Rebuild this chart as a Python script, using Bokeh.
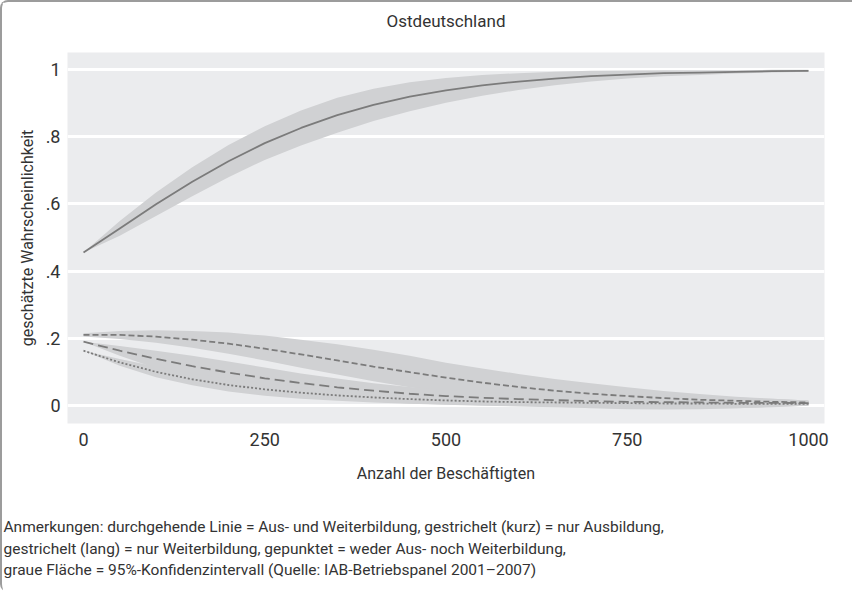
from bokeh.plotting import figure
from bokeh.models import Range1d, FixedTicker, Title
from bokeh.embed import file_html
from bokeh.resources import INLINE

# ---------------- data ----------------
x_vals = [0, 50, 100, 150, 200, 250, 300, 350, 400, 450, 500,
          550, 600, 650, 700, 750, 800, 850, 900, 950, 1000]

# Aus- und Weiterbildung (durchgehende Linie)
both = [0.455, 0.527, 0.599, 0.666, 0.727, 0.781, 0.826, 0.864, 0.895, 0.919, 0.938,
        0.953, 0.964, 0.973, 0.980, 0.985, 0.989, 0.991, 0.993, 0.995, 0.996]
both_lo = [0.455, 0.505, 0.564, 0.623, 0.679, 0.731, 0.774, 0.812, 0.847, 0.876, 0.901,
           0.922, 0.939, 0.953, 0.964, 0.973, 0.980, 0.984, 0.988, 0.991, 0.993]
both_hi = [0.455, 0.549, 0.634, 0.709, 0.775, 0.831, 0.878, 0.916, 0.943, 0.962, 0.975,
           0.984, 0.989, 0.993, 0.996, 0.997, 0.998, 0.998, 0.998, 0.999, 0.999]

# nur Ausbildung (gestrichelt kurz)
ausb = [0.210, 0.210, 0.205, 0.196, 0.184, 0.169, 0.152, 0.134, 0.116, 0.099, 0.083,
        0.068, 0.055, 0.044, 0.035, 0.028, 0.022, 0.017, 0.014, 0.011, 0.009]
ausb_lo = [0.205, 0.198, 0.187, 0.172, 0.154, 0.134, 0.112, 0.092, 0.072, 0.054, 0.040,
           0.027, 0.017, 0.009, 0.004, 0.002, 0.001, 0.000, 0.002, 0.002, 0.003]
ausb_hi = [0.215, 0.222, 0.224, 0.222, 0.217, 0.208, 0.196, 0.182, 0.166, 0.148, 0.127,
           0.110, 0.094, 0.079, 0.066, 0.054, 0.043, 0.034, 0.026, 0.020, 0.015]

# nur Weiterbildung (gestrichelt lang)
weit = [0.190, 0.163, 0.139, 0.117, 0.098, 0.081, 0.067, 0.054, 0.044, 0.035, 0.028,
        0.023, 0.019, 0.016, 0.013, 0.011, 0.010, 0.009, 0.008, 0.008, 0.007]
weit_lo = [0.190, 0.148, 0.111, 0.081, 0.058, 0.040, 0.027, 0.017, 0.011, 0.006, 0.003,
           0.001, -0.001, -0.004, -0.008, -0.011, -0.012, -0.011, -0.008, -0.004, -0.001]
weit_hi = [0.190, 0.177, 0.163, 0.148, 0.131, 0.113, 0.095, 0.080, 0.066, 0.055, 0.046,
           0.040, 0.036, 0.034, 0.033, 0.032, 0.031, 0.028, 0.024, 0.020, 0.015]

# weder Aus- noch Weiterbildung (gepunktet)
weder = [0.163, 0.128, 0.100, 0.078, 0.061, 0.048, 0.038, 0.030, 0.024, 0.019, 0.015,
         0.012, 0.010, 0.009, 0.008, 0.007, 0.006, 0.006, 0.005, 0.005, 0.005]
weder_lo = [0.163, 0.118, 0.084, 0.060, 0.042, 0.029, 0.020, 0.014, 0.009, 0.005, 0.002,
            -0.001, -0.003, -0.005, -0.007, -0.009, -0.010, -0.009, -0.008, -0.005, -0.001]
weder_hi = [0.163, 0.138, 0.116, 0.096, 0.080, 0.067, 0.056, 0.046, 0.039, 0.033, 0.028,
            0.025, 0.023, 0.023, 0.023, 0.023, 0.022, 0.021, 0.018, 0.015, 0.011]

x_ticks = [0, 250, 500, 750, 1000]
y_ticks = [0, 0.2, 0.4, 0.6, 0.8, 1]
y_tick_labels = ["0", ".2", ".4", ".6", ".8", "1"]

title_text = "Ostdeutschland"
x_label = "Anzahl der Beschäftigten"
y_label = "geschätzte Wahrscheinlichkeit"
notes = [
    "Anmerkungen: durchgehende Linie = Aus- und Weiterbildung, gestrichelt (kurz) = nur Ausbildung,",
    "gestrichelt (lang) = nur Weiterbildung, gepunktet = weder Aus- noch Weiterbildung,",
    "graue Fläche = 95%-Konfidenzintervall (Quelle: IAB-Betriebspanel 2001–2007)",
]

# ---------------- styles ----------------
FONT = "Roboto"
TEXT = "#333333"
BAND = "#d0d1d3"
LINE = "#7b7b7b"
BG = "#ebecee"

p = figure(width=852, height=592, output_backend="svg", toolbar_location=None, title=None,
           x_range=Range1d(-22.07, 1022.07), y_range=Range1d(-0.0536, 1.0506),
           min_border_left=65, min_border_right=30, min_border_top=50, min_border_bottom=171)
p.styles = {"border-top": "2px solid #9c9c9c", "border-left": "2px solid #9c9c9c",
            "border-top-left-radius": "8px", "border-bottom-left-radius": "8px"}

p.background_fill_color = BG
p.border_fill_color = "white"
p.outline_line_color = None

# title above the frame: an invisible spacer next to the frame, then the title
p.add_layout(Title(text=" ", text_font_size="1px", standoff=19), "above")
p.add_layout(Title(text=title_text, align="center", standoff=0, text_font=FONT,
                   text_font_size="17px", text_font_style="normal", text_color=TEXT), "above")

p.xgrid.visible = False
p.ygrid.grid_line_color = "white"
p.ygrid.grid_line_width = 3

for ax in (p.xaxis[0], p.yaxis[0]):
    ax.axis_line_color = None
    ax.major_tick_line_color = None
    ax.minor_tick_line_color = None
    ax.major_tick_out = 0
    ax.major_tick_in = 0
    ax.major_label_text_font = FONT
    ax.major_label_text_color = TEXT
    ax.major_label_text_font_size = "18px"
    ax.axis_label_text_font = FONT
    ax.axis_label_text_font_size = "16px"
    ax.axis_label_text_font_style = "normal"
    ax.axis_label_text_color = TEXT

p.xaxis.ticker = FixedTicker(ticks=x_ticks)
p.xaxis.major_label_standoff = 9
p.xaxis.axis_label = x_label
p.xaxis.axis_label_standoff = 15

p.yaxis.ticker = FixedTicker(ticks=y_ticks)
p.yaxis.major_label_overrides = {t: s for t, s in zip(y_ticks, y_tick_labels)}
p.yaxis.major_label_standoff = 7
p.yaxis.major_label_orientation = "horizontal"
p.yaxis.axis_label = y_label
p.yaxis.axis_label_standoff = 6

# bands
for lo, hi in ((both_lo, both_hi), (ausb_lo, ausb_hi), (weit_lo, weit_hi), (weder_lo, weder_hi)):
    p.varea(x=x_vals, y1=lo, y2=hi, fill_color=BAND, fill_alpha=1.0)

# lines
p.line(x_vals, both, line_color=LINE, line_width=1.8)
p.line(x_vals, ausb, line_color=LINE, line_width=1.8, line_dash="6 3")
p.line(x_vals, weit, line_color=LINE, line_width=1.8, line_dash="10 5")
p.line(x_vals, weder, line_color=LINE, line_width=1.8, line_dash="2 2")

# notes below the chart: spacer, then one multi-line caption
p.add_layout(Title(text=" ", text_font_size="1px", standoff=27), "below")
p.add_layout(Title(text="\n".join(notes), align="left", offset=-64, standoff=0,
                   text_font=FONT, text_font_size="15.5px", text_font_style="normal",
                   text_line_height=1.21, text_color=TEXT), "below")

open("out.html", "w").write(file_html(p, INLINE))
